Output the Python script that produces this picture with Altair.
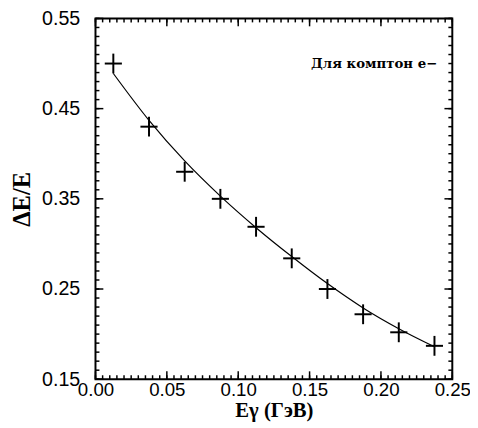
import altair as alt
import numpy as np
import pandas as pd

# measured points
x_vals = [0.0125, 0.0375, 0.0625, 0.0875, 0.1125, 0.1375, 0.1625, 0.1875, 0.2125, 0.2375]
y_vals = [0.500, 0.430, 0.380, 0.350, 0.319, 0.284, 0.250, 0.222, 0.202, 0.187]
x_err = [0.006] * 10
y_err = [0.011] * 10

# fitted curve
fit_x = [0.0125, 0.0375, 0.0625, 0.0875, 0.1125, 0.1375, 0.1625, 0.1875, 0.2125, 0.2375]
fit_y = [0.489, 0.437, 0.392, 0.353, 0.318, 0.286, 0.256, 0.229, 0.206, 0.186]

x_labels = [0.00, 0.05, 0.10, 0.15, 0.20, 0.25]
y_labels = [0.15, 0.25, 0.35, 0.45, 0.55]
x_minor = [round(v, 3) for v in np.arange(0.0, 0.2501, 0.005)]
y_minor = [round(v, 3) for v in np.arange(0.15, 0.5501, 0.01)]

note_text = ["Для комптон e−"]
note_x = [0.151]
note_y = [0.499]

W, H = 363, 367

pts = pd.DataFrame({"x": x_vals, "y": y_vals, "xe": x_err, "ye": y_err})
fit = pd.DataFrame({"x": fit_x, "y": fit_y})
xt_minor = pd.DataFrame({"v": x_minor})
xt_major = pd.DataFrame({"v": x_labels})
yt_minor = pd.DataFrame({"v": y_minor})
yt_major = pd.DataFrame({"v": y_labels})
note = pd.DataFrame({"t": note_text, "x": note_x, "y": note_y})

xs = alt.Scale(domain=[0, 0.25], nice=False, zero=False)
ys = alt.Scale(domain=[0.15, 0.55], nice=False, zero=False)

lab_font = "Liberation Sans"
ser_font = "Liberation Serif"

xaxis = alt.Axis(values=x_labels, format=".2f", labelFont=lab_font, labelFontSize=19,
                 labelColor="black", labelPadding=2, labelFlush=False, tickSize=0,
                 title="Eγ  (ГэВ)", titleFont=ser_font, titleFontSize=21, titleFontWeight="bold",
                 titleColor="black", titleX=W / 2, titleY=32, titleBaseline="middle",
                 titleAlign="center")
yaxis = alt.Axis(values=y_labels, format=".2f", labelFont=lab_font, labelFontSize=20,
                 labelColor="black", labelPadding=16, labelFlush=False, tickSize=0,
                 title="ΔE/E", titleFont=ser_font, titleFontSize=25, titleFontWeight="bold",
                 titleColor="black", titleX=-75, titleY=H / 2, titleAngle=270,
                 titleBaseline="middle", titleAlign="center")


def X(field):
    return alt.X(field, scale=xs, axis=xaxis)


def Y(field):
    return alt.Y(field, scale=ys, axis=yaxis)


curve = alt.Chart(fit).mark_line(color="black", strokeWidth=1.2, interpolate="monotone").encode(
    x=X("x:Q"), y=Y("y:Q"))

hbar = alt.Chart(pts).transform_calculate(x0="datum.x - datum.xe", x1="datum.x + datum.xe").mark_rule(
    color="black", strokeWidth=2).encode(x=X("x0:Q"), x2="x1:Q", y=Y("y:Q"))
vbar = alt.Chart(pts).transform_calculate(y0="datum.y - datum.ye", y1="datum.y + datum.ye").mark_rule(
    color="black", strokeWidth=2).encode(x=X("x:Q"), y=Y("y0:Q"), y2="y1:Q")


def xticks(df, length):
    b = alt.Chart(df).mark_rule(color="black", strokeWidth=1.5).encode(
        x=X("v:Q"), y=alt.value(H), y2=alt.value(H - length))
    t = alt.Chart(df).mark_rule(color="black", strokeWidth=1.5).encode(
        x=X("v:Q"), y=alt.value(0), y2=alt.value(length))
    return b + t


def yticks(df, length):
    l = alt.Chart(df).mark_rule(color="black", strokeWidth=1.5).encode(
        y=Y("v:Q"), x=alt.value(0), x2=alt.value(length))
    r = alt.Chart(df).mark_rule(color="black", strokeWidth=1.5).encode(
        y=Y("v:Q"), x=alt.value(W), x2=alt.value(W - length))
    return l + r


text = alt.Chart(note).mark_text(font="DejaVu Serif", fontSize=13.5, fontWeight="bold", align="left",
                                 baseline="middle", color="black").encode(
    x=X("x:Q"), y=Y("y:Q"), text="t:N")

chart = alt.layer(
    curve, hbar, vbar,
    xticks(xt_minor, 4), xticks(xt_major, 8),
    yticks(yt_minor, 4), yticks(yt_major, 8),
    text,
).properties(
    width=W, height=H,
    autosize=alt.AutoSizeParams(type="none"),
    padding={"left": 89, "top": 7, "right": 18, "bottom": 45},
    background="white",
).configure_view(stroke="black", strokeWidth=2).configure_axis(grid=False, domain=False, ticks=False)

chart.save("out.html", embed_options={"renderer": "svg", "actions": False})
